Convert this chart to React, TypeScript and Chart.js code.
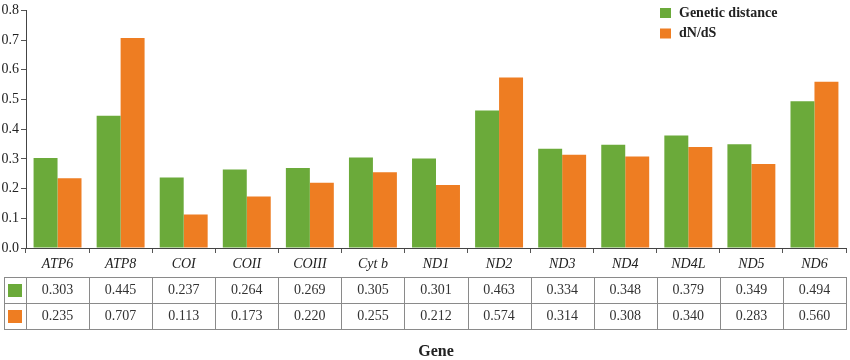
import React, { useEffect, useRef } from "react";
import { Chart, registerables } from "chart.js";

Chart.register(...registerables);

const genes = ["ATP6", "ATP8", "COI", "COII", "COIII", "Cyt b", "ND1", "ND2", "ND3", "ND4", "ND4L", "ND5", "ND6"];
const geneticDistance = [0.303, 0.445, 0.237, 0.264, 0.269, 0.305, 0.301, 0.463, 0.334, 0.348, 0.379, 0.349, 0.494];
const dnds = [0.235, 0.707, 0.113, 0.173, 0.22, 0.255, 0.212, 0.574, 0.314, 0.308, 0.34, 0.283, 0.56];
const seriesLabels = ["Genetic distance", "dN/dS"];
const seriesColors = ["#6BAA3A", "#EE7D22"];
const yMin = 0;
const yMax = 0.8;
const yStep = 0.1;
const xTitle = "Gene";

const SERIF = "'Liberation Serif', 'Times New Roman', serif";

const tablePlugin = {
  id: "dataTable",
  afterDraw(chart: any) {
    const ctx = chart.ctx;
    const xs = chart.scales.x;
    const n = genes.length;
    const w = (xs.right - xs.left) / n;
    const top = 277;
    const rowH = 26;
    const leftEdge = 4;
    const rows = [geneticDistance, dnds];
    ctx.save();
    ctx.strokeStyle = "#8a8a8a";
    ctx.lineWidth = 1;
    // horizontal lines
    for (let r = 0; r <= rows.length; r++) {
      const y = Math.round(top + r * rowH) + 0.5;
      ctx.beginPath();
      ctx.moveTo(leftEdge, y);
      ctx.lineTo(xs.right, y);
      ctx.stroke();
    }
    // vertical lines
    const vx = [leftEdge];
    for (let i = 0; i <= n; i++) vx.push(xs.left + i * w);
    vx.forEach((x) => {
      const px = Math.round(x) + 0.5;
      ctx.beginPath();
      ctx.moveTo(px, top);
      ctx.lineTo(px, top + rows.length * rowH + 1);
      ctx.stroke();
    });
    // legend keys and values
    ctx.font = `14px ${SERIF}`;
    ctx.textAlign = "center";
    ctx.textBaseline = "middle";
    rows.forEach((vals, r) => {
      const cy = top + r * rowH + rowH / 2 + 0.5;
      ctx.fillStyle = seriesColors[r];
      ctx.fillRect(8, Math.round(cy - 6.5), 14, 13);
      ctx.fillStyle = "#333";
      vals.forEach((v, i) => {
        const cx = xs.getPixelForValue(i);
        ctx.fillText(v.toFixed(3), cx, cy);
      });
    });
    // top-right legend
    ctx.font = `bold 14px ${SERIF}`;
    ctx.textAlign = "left";
    seriesLabels.forEach((lab, i) => {
      const cy = 13 + i * 20.5;
      ctx.fillStyle = seriesColors[i];
      ctx.fillRect(660, cy - 5, 11, 10);
      ctx.fillStyle = "#222";
      ctx.fillText(lab, 679, cy);
    });
    ctx.restore();
  },
};

export default function App() {
  const ref = useRef<HTMLCanvasElement | null>(null);
  useEffect(() => {
    if (!ref.current) return;
    const chart = new Chart(ref.current, {
      type: "bar",
      data: {
        labels: genes,
        datasets: [
          { label: seriesLabels[0], data: geneticDistance, backgroundColor: seriesColors[0], borderWidth: 0 },
          { label: seriesLabels[1], data: dnds, backgroundColor: seriesColors[1], borderWidth: 0 },
        ],
      },
      options: {
        animation: false,
        responsive: false,
        devicePixelRatio: 1,
        layout: { padding: { top: 8, right: 4, left: 0, bottom: 0 } },
        datasets: { bar: { categoryPercentage: 0.76, barPercentage: 1 } },
        plugins: { legend: { display: false }, tooltip: { enabled: false } },
        scales: {
          x: {
            afterFit(scale: any) {
              scale.height = 112;
            },
            grid: { display: true, drawOnChartArea: false, drawTicks: true, tickLength: 5, color: "#555", offset: true },
            border: { display: true, color: "#444", width: 1 },
            ticks: {
              font: { family: SERIF, size: 14, style: "italic" },
              color: "#222",
              padding: 3,
              maxRotation: 0,
              autoSkip: false,
            },
            title: {
              display: true,
              text: xTitle,
              font: { family: SERIF, size: 16, weight: "bold", lineHeight: 1 },
              color: "#222",
              padding: { top: 0, bottom: 0 },
            },
          },
          y: {
            min: yMin,
            max: yMax,
            afterFit(scale: any) {
              scale.width = 26;
            },
            grid: { display: true, drawOnChartArea: false, drawTicks: true, tickLength: 5, color: "#555" },
            border: { display: true, color: "#444", width: 1 },
            ticks: {
              stepSize: yStep,
              font: { family: SERIF, size: 14 },
              color: "#222",
              padding: 2,
              callback: (v: any) => Number(v).toFixed(1),
            },
          },
        },
      },
      plugins: [tablePlugin],
    });
    return () => chart.destroy();
  }, []);
  return (
    <div style={{ position: "fixed", left: 0, top: 0, width: 850, height: 360, background: "#fff" }}>
      <canvas ref={ref} width={850} height={360} />
    </div>
  );
}
